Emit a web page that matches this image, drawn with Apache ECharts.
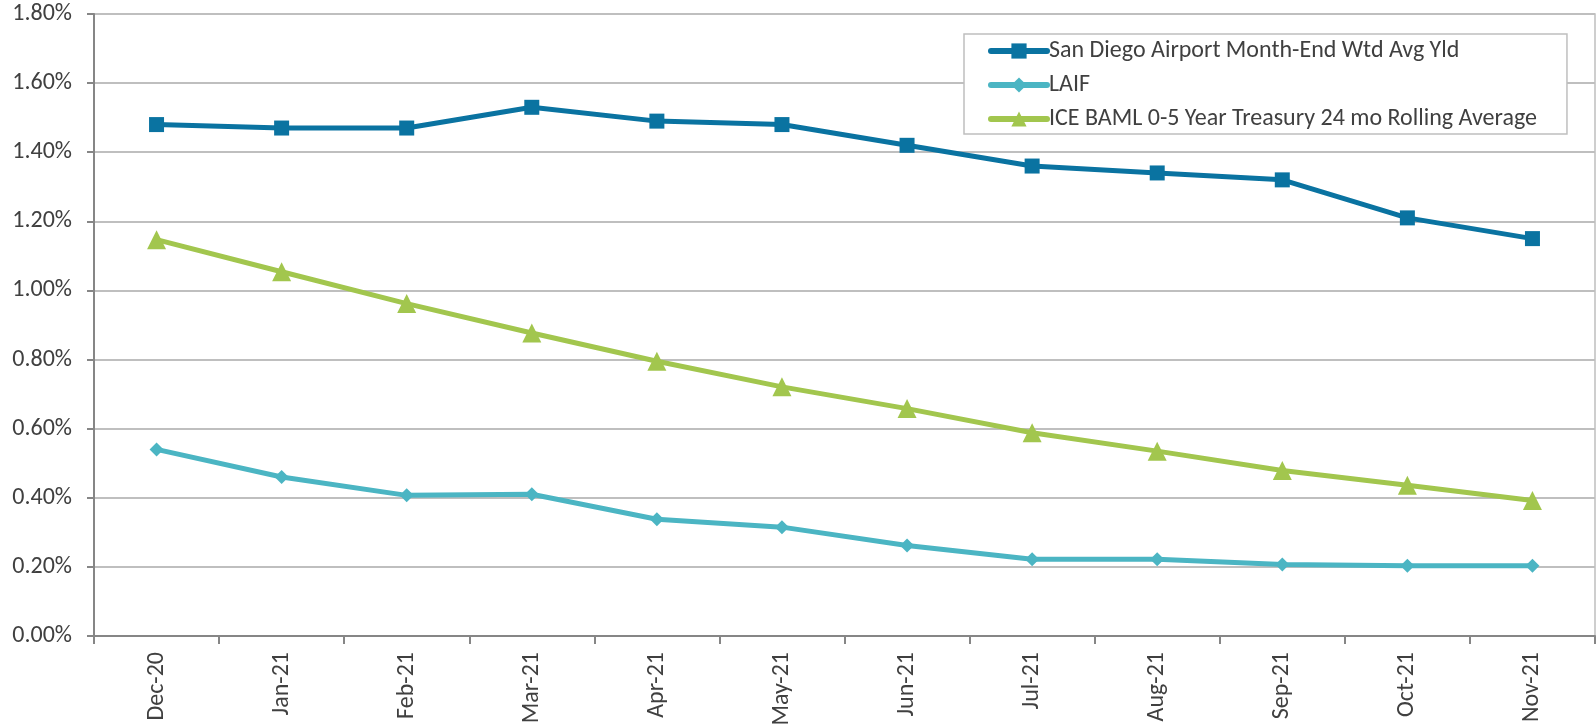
<!DOCTYPE html>
<html>
<head>
<meta charset="utf-8">
<script src="https://cdn.jsdelivr.net/npm/echarts@6/dist/echarts.min.js"></script>
<style>
html, body { margin: 0; padding: 0; background: #fff; }
#canvas_main { width: 1596px; height: 725px; }
</style>
</head>
<body>
<div id="canvas_main"></div>
<script>
var months = ['Dec-20', 'Jan-21', 'Feb-21', 'Mar-21', 'Apr-21', 'May-21', 'Jun-21', 'Jul-21', 'Aug-21', 'Sep-21', 'Oct-21', 'Nov-21'];
var sanDiego = [1.48, 1.47, 1.47, 1.53, 1.49, 1.48, 1.42, 1.36, 1.34, 1.32, 1.21, 1.15];
var laif = [0.54, 0.46, 0.407, 0.41, 0.338, 0.315, 0.262, 0.222, 0.222, 0.207, 0.203, 0.203];
var iceBaml = [1.147, 1.054, 0.962, 0.877, 0.795, 0.721, 0.658, 0.588, 0.535, 0.479, 0.436, 0.392];
var names = ['San Diego Airport Month-End Wtd Avg Yld', 'LAIF', 'ICE BAML 0-5 Year Treasury 24 mo Rolling Average'];

var font = 'Carlito, "Open Sans", "Liberation Sans", sans-serif';
var myChart = echarts.init(document.getElementById('canvas_main'));

function mkSeries(name, data, color, symbol, size) {
	return {
		name: name,
		type: 'line',
		data: data,
		symbol: symbol,
		symbolSize: size,
		lineStyle: { color: color, width: 5 },
		itemStyle: { color: color },
		animation: false
	};
}

var option = {
	textStyle: { fontFamily: font },
	grid: {
		left: 94, right: 1, top: 14, bottom: 89,
		outerBoundsMode: 'none',
		containLabel: false,
		show: true, borderColor: '#BFBFBF', borderWidth: 1.5
	},
	legend: {
		data: names,
		orient: 'vertical',
		left: 964, top: 34,
		padding: [5, 30, 3, 24],
		itemGap: 10,
		itemWidth: 56,
		itemHeight: 19,
		borderColor: '#BFBFBF',
		borderWidth: 1.5,
		backgroundColor: '#fff',
		lineStyle: { width: 6, cap: 'round' },
		textStyle: { fontFamily: font, fontSize: 24, lineHeight: 24, color: '#404040', padding: [0, 0, 0, -3] }
	},
	xAxis: {
		type: 'category',
		data: months,
		boundaryGap: true,
		axisLine: { lineStyle: { color: '#868686', width: 2 } },
		axisTick: { show: true, length: 8, lineStyle: { color: '#868686', width: 2 } },
		axisLabel: { rotate: 90, margin: 16, fontSize: 24, color: '#404040', fontFamily: font }
	},
	yAxis: {
		type: 'value',
		min: 0, max: 1.8, interval: 0.2,
		axisLine: { show: true, lineStyle: { color: '#868686', width: 2 } },
		axisTick: { show: true, length: 7, lineStyle: { color: '#868686', width: 2 } },
		splitLine: { lineStyle: { color: '#BFBFBF', width: 2 } },
		axisLabel: {
			margin: 22, fontSize: 24, color: '#404040', fontFamily: font,
			formatter: function (v) { return v.toFixed(2) + '%'; }
		}
	},
	series: [
		mkSeries(names[0], sanDiego, '#0A73A1', 'rect', 15),
		mkSeries(names[1], laif, '#4BB5C3', 'diamond', 14),
		mkSeries(names[2], iceBaml, '#A2C64E', 'triangle', 19)
	]
};
myChart.setOption(option);
</script>
</body>
</html>
